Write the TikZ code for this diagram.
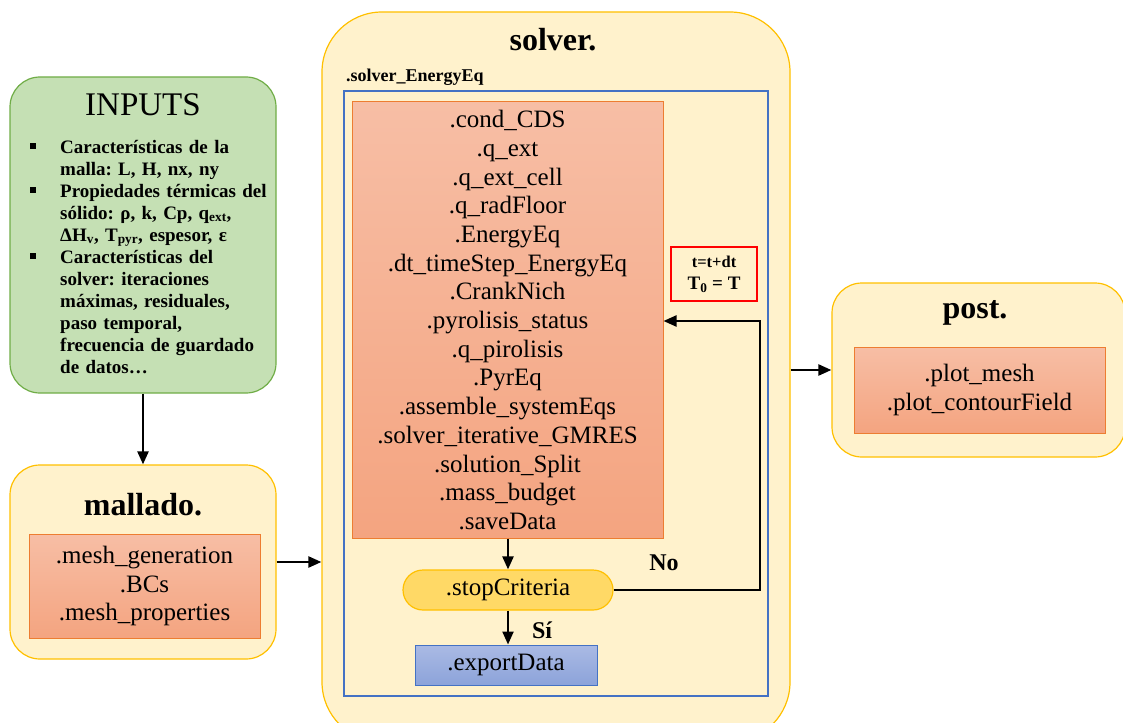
\documentclass[tikz,border=0pt]{standalone}
\usepackage{fontspec}
\setmainfont{Liberation Serif}
\usepackage{enumitem}
\usetikzlibrary{arrows.meta,calc}
\definecolor{gfill}{HTML}{C5E0B4}
\definecolor{gborder}{HTML}{70AD47}
\definecolor{yfill}{HTML}{FFF2CC}
\definecolor{yborder}{HTML}{FFC000}
\definecolor{otop}{HTML}{F7BEA5}
\definecolor{obot}{HTML}{F4A480}
\definecolor{oborder}{HTML}{ED7D31}
\definecolor{stopfill}{HTML}{FFD966}
\definecolor{btop}{HTML}{AABAE4}
\definecolor{bbot}{HTML}{8CA3DA}
\definecolor{bborder}{HTML}{4472C4}
\definecolor{redb}{HTML}{FF0000}
\frenchspacing
\begin{document}
\begin{tikzpicture}[x=1pt,y=-1pt,
  gbox/.style={draw=gborder, fill=gfill, line width=1.2pt, rounded corners=30pt, inner sep=0pt},
  ybox/.style={draw=yborder, fill=yfill, line width=1.2pt, rounded corners=#1, inner sep=0pt},
  ybox/.default=30pt,
  obox/.style={draw=oborder, line width=1pt, top color=otop, bottom color=obot, inner sep=0pt, align=center, font=\fontsize{25}{28.7}\selectfont},
  stopbox/.style={draw=yborder, fill=stopfill, line width=1.2pt, rounded corners=20pt, inner sep=0pt, font=\fontsize{25}{28}\selectfont},
  expbox/.style={draw=bborder, line width=1pt, top color=btop, bottom color=bbot, inner sep=0pt, font=\fontsize{25}{28}\selectfont},
  frame/.style={draw=bborder, line width=2.3pt, inner sep=0pt},
  title/.style={font=\bfseries\fontsize{32}{36}\selectfont, inner sep=0pt},
  lbl/.style={font=\bfseries\fontsize{24}{26}\selectfont, inner sep=0pt},
  arr/.style={line width=2.3pt, -{Triangle[length=13pt,width=11pt]}}
]
\useasboundingbox (0,0) rectangle (1123,722);

% INPUTS
\node[gbox, minimum width=266, minimum height=316] (inputs) at (143,235) {};
\node[font=\fontsize{33}{36}\selectfont, inner sep=0pt] (inputsT) at (143,105) {INPUTS};
\node[anchor=north west, text width=262, inner sep=0pt, align=left,
      font=\bfseries\fontsize{19}{22}\selectfont] (inputsL) at (22,131) {%
\begin{itemize}[leftmargin=38pt,labelsep=24pt,labelwidth=6pt,itemsep=0pt,topsep=0pt,parsep=0pt,partopsep=0pt,label={\rule[0.2em]{6pt}{6pt}}]
\item Características de la\\ malla: L, H, nx, ny
\item Propiedades térmicas del\\ sólido: ρ, k, Cp, q\textsubscript{ext},\\ ΔH\textsubscript{v}, T\textsubscript{pyr}, espesor, ε
\item Características del\\ solver: iteraciones\\ máximas, residuales,\\ paso temporal,\\ frecuencia de guardado\\ de datos…
\end{itemize}};

% mallado
\node[ybox, minimum width=266, minimum height=194] (mallado) at (143,562) {};
\node[title] (malladoT) at (143,505) {mallado.};
\node[obox, minimum width=231, minimum height=104] (meshfun) at (144.5,586)
  {.mesh\_generation\\.BCs\\.mesh\_properties};

% solver
\node[ybox=60pt, minimum width=468, minimum height=730] (solver) at (556,377) {};
\node[title] (solverT) at (553,40) {solver.};
\node[anchor=base west, inner sep=0pt, font=\bfseries\fontsize{18}{20}\selectfont] (energyT) at (346,82) {.solver\_EnergyEq};
\node[frame, minimum width=424, minimum height=605] (frame) at (556,393.5) {};
\node[obox, minimum width=311, minimum height=436] (energy) at (507.5,320)
  {.cond\_CDS\\.q\_ext\\.q\_ext\_cell\\.q\_radFloor\\.EnergyEq\\.dt\_timeStep\_EnergyEq\\.CrankNich\\.pyrolisis\_status\\.q\_pirolisis\\.PyrEq\\.assemble\_systemEqs\\.solver\_iterative\_GMRES\\.solution\_Split\\.mass\_budget\\.saveData};
\node[stopbox, minimum width=210, minimum height=40] (stop) at (508,590) {.stopCriteria};
\node[expbox, minimum width=182, minimum height=40] (export) at (506,665) {.exportData};
\node[draw=redb, line width=2pt, fill=yfill, minimum width=86, minimum height=54, inner sep=0pt, align=center,
      font=\bfseries\fontsize{16.5}{22}\selectfont] (upd) at (714,274) {t=t+dt\\{\fontsize{19}{22}\selectfont T\textsubscript{0} = T}};
\node[lbl] (no) at (664,563) {No};
\node[lbl] (si) at (542,630) {Sí};
\coordinate (loopc) at (760,321);

\draw[arr] (energy.south -| stop.north) -- (stop.north);
\draw[arr] (stop.south) -- (stop.south |- export.north);
\draw[arr] (stop.east) -| (loopc) -- (energy.east |- loopc);

% post
\node[ybox, minimum width=293, minimum height=174] (post) at (978.5,370) {};
\node[title] (postT) at (975,313) {post.};
\node[obox, minimum width=251, minimum height=86] (postfun) at (979.5,390)
  {.plot\_mesh\\.plot\_contourField};

% connectors between blocks
\draw[arr] (inputs.south) -- (mallado.north);
\draw[arr] (mallado.east) -- (mallado.east -| solver.west);
\draw[arr] (solver.east |- post.west) -- (post.west);
\end{tikzpicture}
\end{document}
